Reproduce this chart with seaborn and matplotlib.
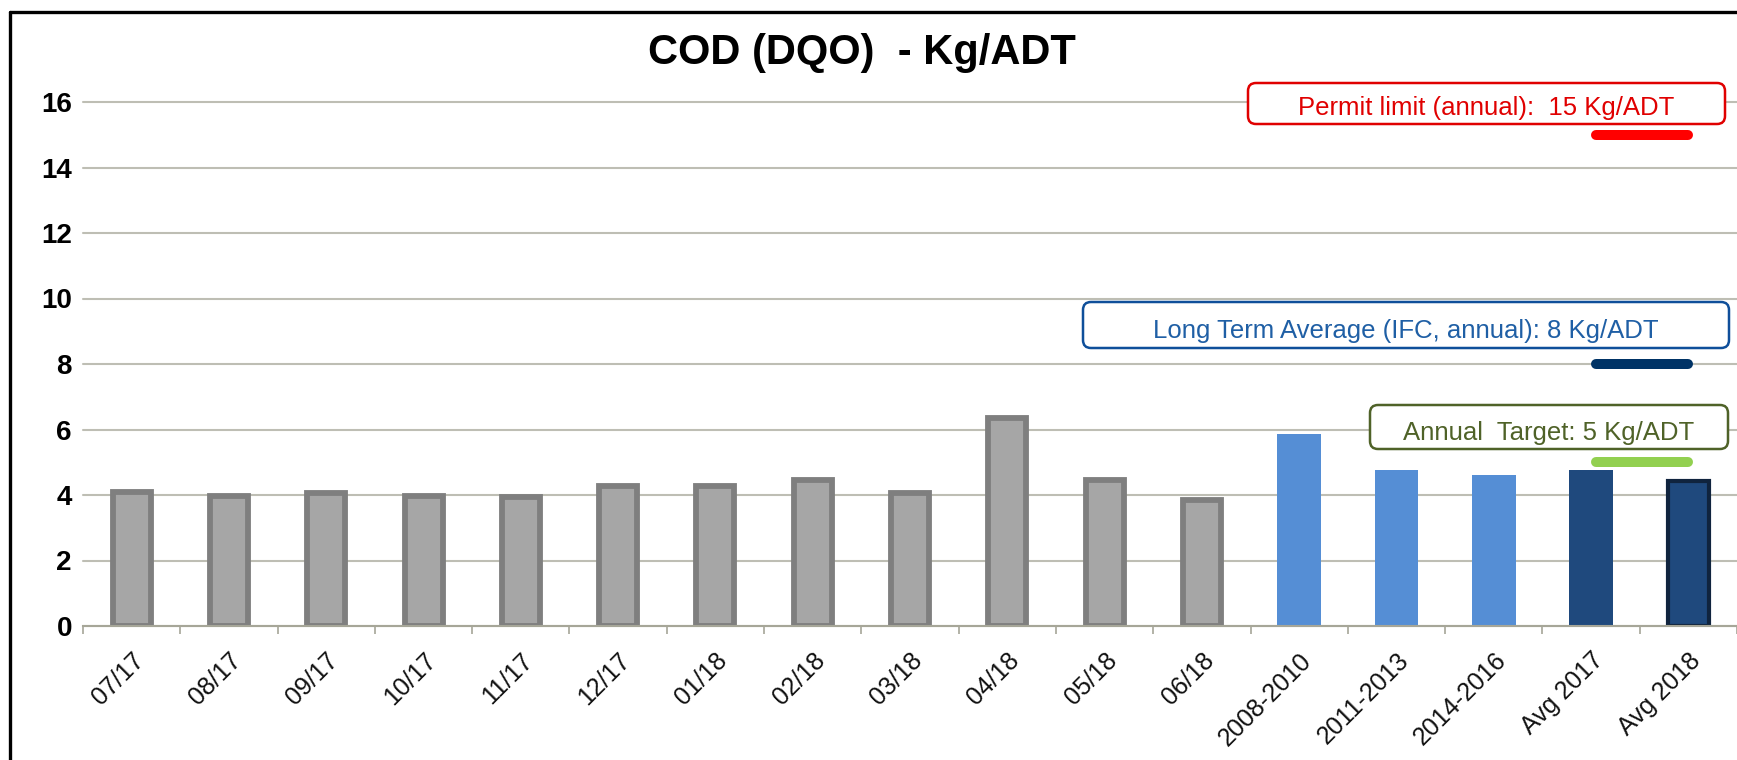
import seaborn as sns
import matplotlib.pyplot as plt
import matplotlib.transforms as mtransforms
from matplotlib.patches import FancyBboxPatch
from matplotlib.lines import Line2D
import numpy as np

sns.set_theme(style="white")
plt.rcParams['font.family'] = ['Liberation Sans', 'DejaVu Sans']

# data
categories = ["07/17", "08/17", "09/17", "10/17", "11/17", "12/17",
              "01/18", "02/18", "03/18", "04/18", "05/18", "06/18",
              "2008-2010", "2011-2013", "2014-2016", "Avg 2017", "Avg 2018"]
values = [4.10, 3.96, 4.05, 3.96, 3.93, 4.27,
          4.27, 4.46, 4.07, 6.34, 4.46, 3.85,
          5.86, 4.76, 4.62, 4.76, 4.44]
groups = ["month"] * 12 + ["period"] * 3 + ["avg"] * 2

permit_limit = 15
long_term_avg = 8
annual_target = 5

fill = {"month": "#A6A6A6", "period": "#558ED5", "avg": "#1F497D"}
colors = [fill[g] for g in groups]

W, H = 1737, 760
fig = plt.figure(figsize=(W / 100, H / 100), dpi=100)
ax = fig.add_axes([83 / W, 134 / H, 1 - 83 / W, 524 / H])

sns.barplot(x=categories, y=values, hue=categories, palette=colors,
            saturation=1, width=0.45, legend=False, ax=ax)

# outlines on the monthly bars and on the last average
for p in ax.patches:
    i = int(round(p.get_x() + p.get_width() / 2))
    if i >= len(categories):
        continue
    g = groups[i]
    if g == "month":
        p.set_edgecolor("#7F7F7F")
        p.set_linewidth(4.2)
        p.set_x(i - 0.195)
        p.set_width(0.39)
    elif categories[i] == "Avg 2018":
        p.set_edgecolor("#10243E")
        p.set_linewidth(3.0)
        p.set_x(i - 0.21)
        p.set_width(0.42)
    else:
        p.set_linewidth(0)

ax.set_xlim(-0.5, len(categories) - 0.5)
ax.set_ylim(0, 16)
ax.set_yticks(np.arange(0, 17, 2))
ax.yaxis.grid(True, color="#BEBEB4", linewidth=1.5)
for gl in ax.get_ygridlines():
    gl.set_clip_on(False)
ax.set_axisbelow(True)

for s in ["left", "right", "top"]:
    ax.spines[s].set_visible(False)
ax.spines["bottom"].set_color("#A6A698")
ax.spines["bottom"].set_linewidth(1.5)

ax.set_xticks(np.arange(-0.5, len(categories), 1), minor=True)
ax.tick_params(axis="x", which="minor", length=6, width=1.2, color="#A6A698", direction="out", bottom=True)
ax.tick_params(axis="x", which="major", length=0, pad=16)
ax.tick_params(axis="y", length=0, pad=8)
ax.set_xticks(range(len(categories)))
ax.set_xticklabels(categories, rotation=45, ha="right", rotation_mode="anchor", fontsize=18, color="#111111")
for lab in ax.get_yticklabels():
    lab.set_fontsize(20)
    lab.set_fontweight("bold")
    lab.set_color("black")
ax.set_xlabel("")
ax.set_ylabel("")

# reference levels
for yv, c in [(permit_limit, "#FF0000"), (long_term_avg, "#003366"), (annual_target, "#92D050")]:
    lc = ax.hlines(yv, 15.05, 16.0, colors=c, linewidth=7.2, zorder=5)
    lc.set_capstyle("round")

# labelled boxes (pixel coords from top-left of the picture)
ident = mtransforms.IdentityTransform()
boxes = [
    ("Permit limit (annual):  15 Kg/ADT", 1248, 1725, 83, 124, "#E00000", "#E00000", 108),
    ("Long Term Average (IFC, annual): 8 Kg/ADT", 1083, 1729, 302, 348, "#0F4F9A", "#1F5FA5", 331),
    ("Annual  Target: 5 Kg/ADT", 1370, 1728, 405, 449, "#4F6228", "#4F6228", 433),
]
for txt, x0, x1, y0, y1, ec, tc, ty in boxes:
    fig.add_artist(FancyBboxPatch((x0, H - y1), x1 - x0, y1 - y0,
                                  boxstyle="round,pad=0,rounding_size=8",
                                  facecolor="white", edgecolor=ec, linewidth=1.8,
                                  transform=ident, zorder=6))
    fig.text((x0 + x1) / 2, H - ty, txt, color=tc, fontsize=18.5,
             ha="center", va="center", transform=ident, zorder=7)

fig.text(862 / W, 1 - 53 / H, "COD (DQO)  - Kg/ADT", fontsize=30, fontweight="bold",
         ha="center", va="center", color="black")

# frame around the picture (cut off on the right and bottom)
fig.add_artist(Line2D([10 / W, 10 / W], [0, 1 - 12 / H], color="black", linewidth=2.4, transform=fig.transFigure))
fig.add_artist(Line2D([10 / W, 1], [1 - 12 / H, 1 - 12 / H], color="black", linewidth=2.4, transform=fig.transFigure))

fig.savefig("out.png", dpi=100)
plt.close(fig)
